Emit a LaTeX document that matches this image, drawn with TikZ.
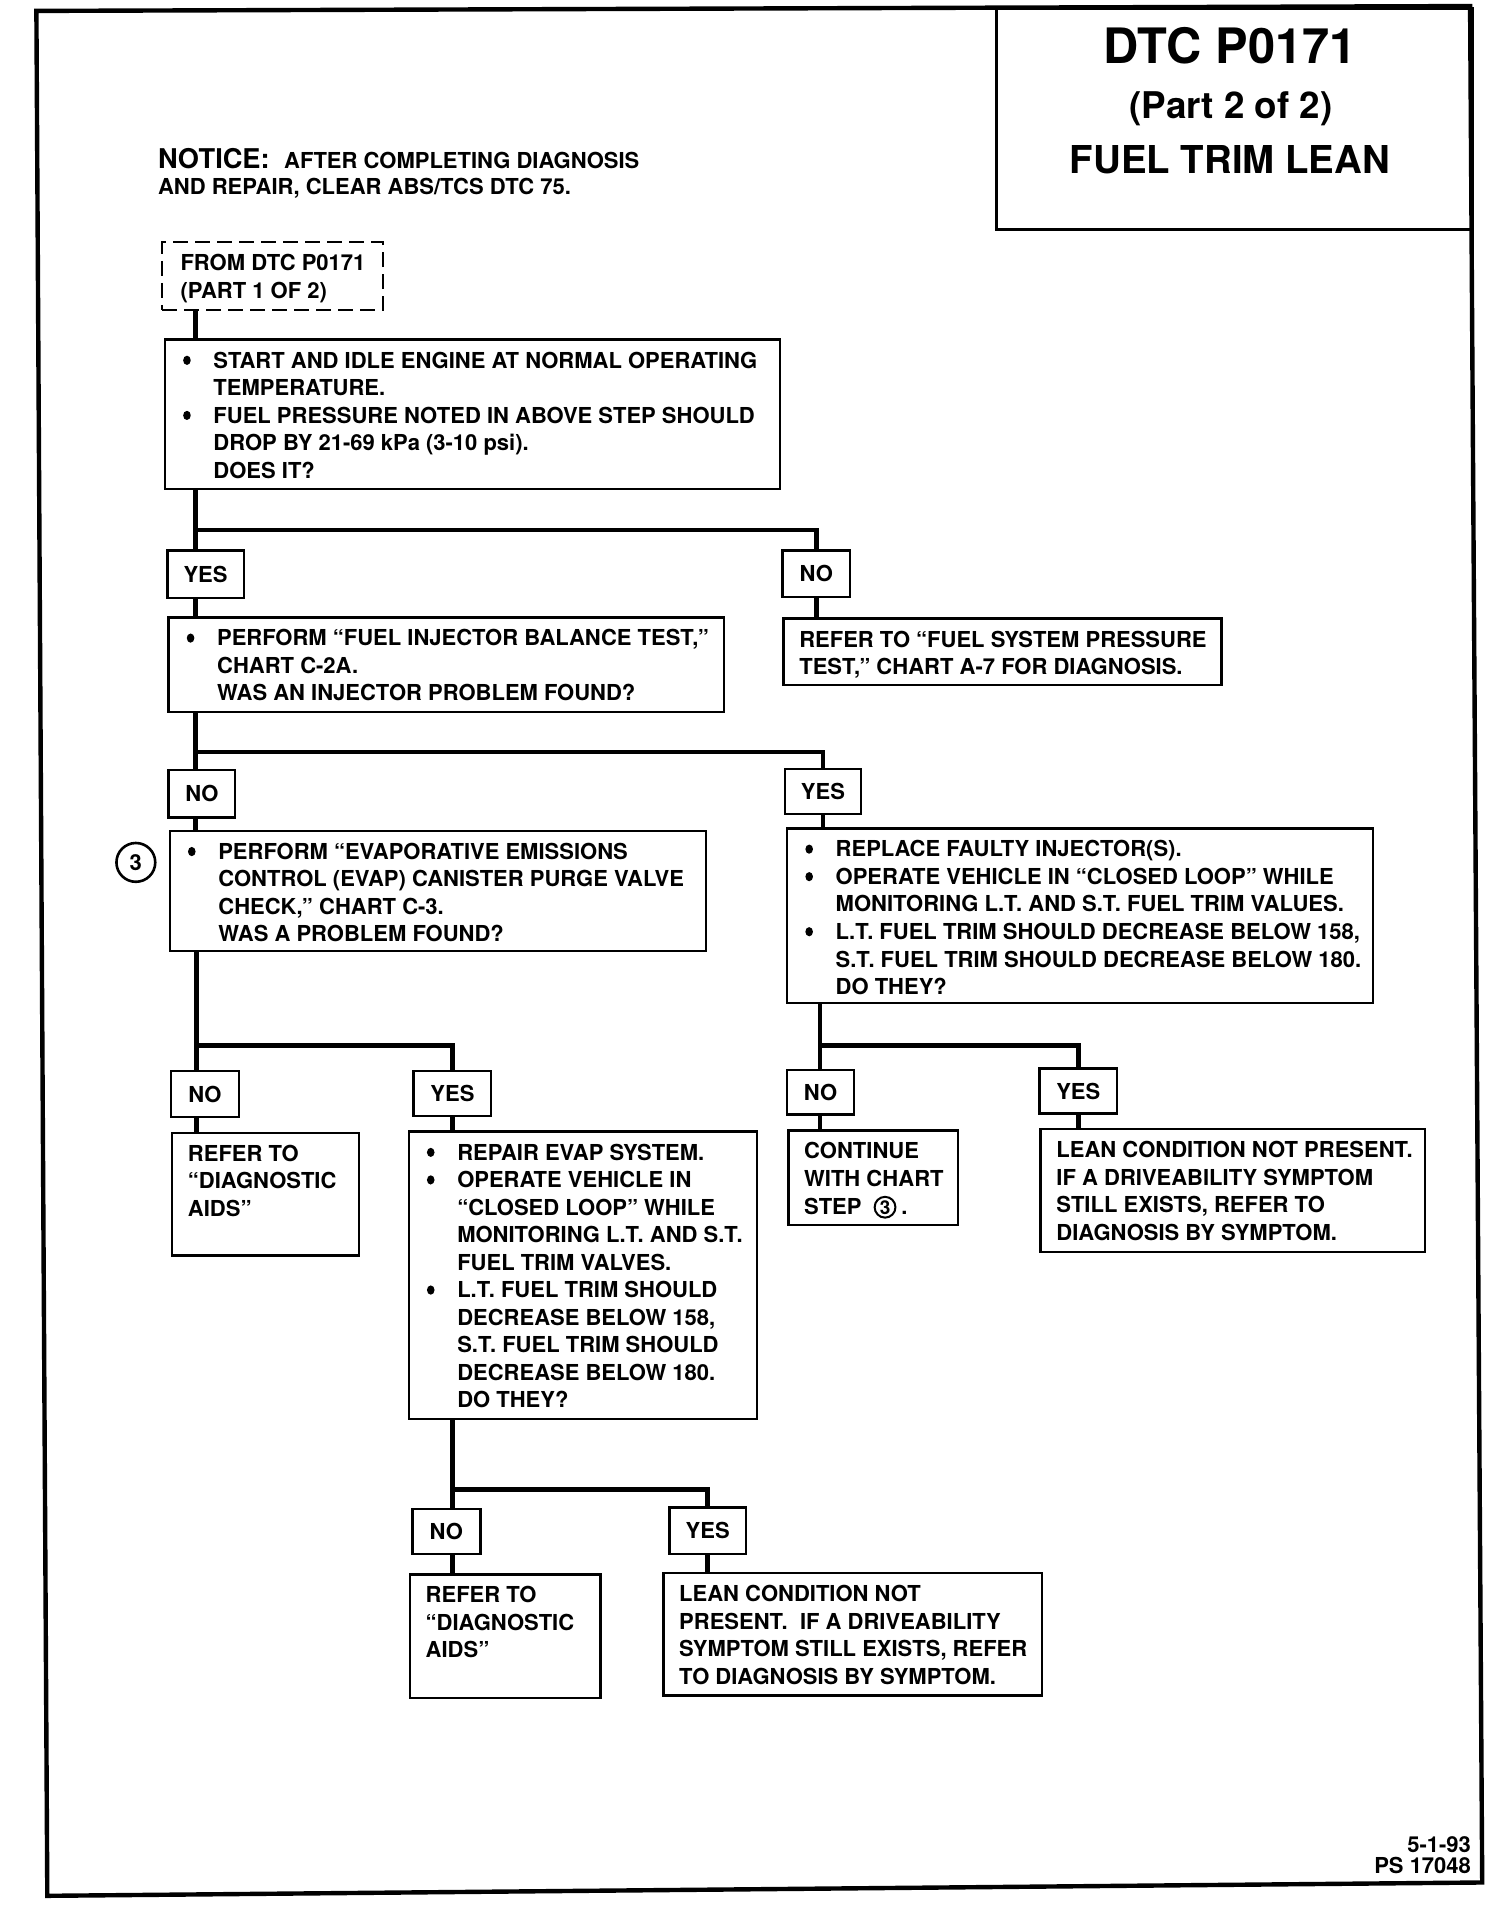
\documentclass[tikz,border=0pt]{standalone}
\usepackage{fontspec}
\setmainfont{TeX Gyre Heros}
\newdimen\U \U=0.6065pt
\def\u{0.6065pt}
\newcommand\fs{\rule{0pt}{23.5\U}}
\newcommand\bdot{\tikz[baseline=0pt]\fill (1.9pt,3.9pt) ellipse [x radius=1.9pt, y radius=2.3pt];}
\newcommand\bl[1]{\par\noindent\hspace*{15\U}\makebox[25\U][l]{\bdot}\mbox{#1}}
\newcommand\cl[1]{\par\noindent\hspace*{40\U}\mbox{#1}}
\newcommand\pl[2][13]{\par\noindent\hspace*{#1\U}\mbox{#2}}
\newcommand\bx[3]{\begin{minipage}[t][#2\U][t]{#1\U}\parskip=0pt\baselineskip=22.7\U\lineskiplimit=-20pt #3\end{minipage}}
\tikzset{
  txtbox/.style={draw, line width=1.2pt, inner sep=0pt, anchor=north west, font=\fontsize{11}{13.77}\selectfont\bfseries},
  lab/.style={draw, line width=1.2pt, inner sep=0pt, anchor=north west, font=\fontsize{11}{13.77}\selectfont\bfseries},
  conn/.style={line width=2.4pt},
  plain/.style={inner sep=0pt, font=\fontsize{11}{13.77}\selectfont\bfseries}
}
\begin{document}
\begin{tikzpicture}[x=0.6065pt, y=-0.6065pt]
\useasboundingbox (0,0) rectangle (1240,1571.4);
% outer frame
\coordinate (fTL) at (30,9);
\coordinate (fTR) at (1212,5);
\coordinate (fBR) at (1222,1552);
\coordinate (fBL) at (39,1563);
\draw[line width=2.2pt] (fTL) -- (fTR) -- (fBR) -- (fBL) -- cycle;
% title box
\node[draw, line width=1.5pt, inner sep=0pt, anchor=north west, minimum width=393*\u, minimum height=182*\u] (title) at (820,6) {};
\node[plain, anchor=base, font=\fontsize{24.4}{28}\selectfont\bfseries] (t1) at (1014,52.4) {DTC P0171};
\node[plain, anchor=base, font=\fontsize{18.4}{22}\selectfont\bfseries] (t2) at (1015,98) {(Part 2 of 2)};
\node[plain, anchor=base, font=\fontsize{19.2}{23}\selectfont\bfseries] (t3) at (1014,143.3) {FUEL TRIM LEAN};
% notice
\node[plain, anchor=base west] (n1) at (130,139) {{\fontsize{13.6}{16}\selectfont NOTICE:}\hspace{12\U}AFTER COMPLETING DIAGNOSIS};
\node[plain, anchor=base west] (n2) at (130,160.5) {AND REPAIR, CLEAR ABS/TCS DTC 75.};
% dashed start box
\node[txtbox, line width=1pt, dash pattern=on 7.5pt off 3.5pt] (dash) at (133,199) {\bx{182}{56}{\pl[15]{\fs FROM DTC P0171}\pl[15]{(PART 1 OF 2)}}};
% boxes
\node[txtbox] (b1) at (135,279) {\bx{507}{123}{%
\bl{\fs START AND IDLE ENGINE AT NORMAL OPERATING}
\cl{TEMPERATURE.}
\bl{FUEL PRESSURE NOTED IN ABOVE STEP SHOULD}
\cl{DROP BY 21-69 kPa (3-10 psi).}
\cl{DOES IT?}}};
\node[lab, minimum width=63*\u, minimum height=39*\u] (yes1) at (137,453) {YES};
\node[lab, minimum width=56*\u, minimum height=38*\u] (no1) at (644,453) {NO};
\node[txtbox] (b2) at (138,508) {\bx{458}{78}{%
\bl{\fs PERFORM “FUEL INJECTOR BALANCE TEST,”}
\cl{CHART C-2A.}
\cl{WAS AN INJECTOR PROBLEM FOUND?}}};
\node[txtbox] (nref1) at (645,509) {\bx{361}{55}{%
\pl{\fs REFER TO “FUEL SYSTEM PRESSURE}
\pl{TEST,” CHART A-7 FOR DIAGNOSIS.}}};
\node[lab, minimum width=55*\u, minimum height=39*\u] (no2) at (138,634) {NO};
\node[lab, minimum width=63*\u, minimum height=37*\u] (yes2) at (646,633) {YES};
\node[txtbox] (b3) at (139,684) {\bx{442}{99}{%
\bl{\fs PERFORM “EVAPORATIVE EMISSIONS}
\cl{CONTROL (EVAP) CANISTER PURGE VALVE}
\cl{CHECK,” CHART C-3.}
\cl{WAS A PROBLEM FOUND?}}};
\node[circle, draw, line width=1.3pt, inner sep=0pt, minimum size=32*\u, font=\fontsize{11}{13}\selectfont\bfseries] (c3) at (112,711) {3};
\node[txtbox] (b4) at (648,682) {\bx{483}{144}{%
\bl{\fs REPLACE FAULTY INJECTOR(S).}
\bl{OPERATE VEHICLE IN “CLOSED LOOP” WHILE}
\cl{MONITORING L.T. AND S.T. FUEL TRIM VALUES.}
\bl{L.T. FUEL TRIM SHOULD DECREASE BELOW 158,}
\cl{S.T. FUEL TRIM SHOULD DECREASE BELOW 180.}
\cl{DO THEY?}}};
\node[lab, minimum width=56*\u, minimum height=38*\u] (no3) at (140,882) {NO};
\node[lab, minimum width=64*\u, minimum height=37*\u] (yes3) at (340,882) {YES};
\node[txtbox] (b5) at (141,933) {\bx{154}{101}{%
\pl{\fs REFER TO}
\pl{“DIAGNOSTIC}
\pl{AIDS”}}};
\node[txtbox] (b6) at (336,932) {\bx{287}{237}{%
\bl{\fs REPAIR EVAP SYSTEM.}
\bl{OPERATE VEHICLE IN}
\cl{“CLOSED LOOP” WHILE}
\cl{MONITORING L.T. AND S.T.}
\cl{FUEL TRIM VALVES.}
\bl{L.T. FUEL TRIM SHOULD}
\cl{DECREASE BELOW 158,}
\cl{S.T. FUEL TRIM SHOULD}
\cl{DECREASE BELOW 180.}
\cl{DO THEY?}}};
\node[lab, minimum width=55*\u, minimum height=37*\u] (no4) at (648,881) {NO};
\node[lab, minimum width=64*\u, minimum height=37*\u] (yes4) at (856,880) {YES};
\node[txtbox] (b7) at (649,931) {\bx{140}{78}{%
\pl{\fs CONTINUE}
\pl{WITH CHART}
\pl{STEP\hspace{10\U}\tikz[baseline=(c3s.base)]\node[circle, draw, line width=1pt, inner sep=0.6pt, anchor=base, font=\fontsize{9.5}{11}\selectfont\bfseries] (c3s) {3};\hspace{4\U}.}}};
\node[txtbox] (b8) at (857,930) {\bx{317}{101}{%
\pl{\fs LEAN CONDITION NOT PRESENT.}
\pl{IF A DRIVEABILITY SYMPTOM}
\pl{STILL EXISTS, REFER TO}
\pl{DIAGNOSIS BY SYMPTOM.}}};
\node[lab, minimum width=56*\u, minimum height=37*\u] (no5) at (339,1243) {NO};
\node[lab, minimum width=63*\u, minimum height=38*\u] (yes5) at (551,1242) {YES};
\node[txtbox] (b9) at (337,1297) {\bx{157}{102}{%
\pl{\fs REFER TO}
\pl{“DIAGNOSTIC}
\pl{AIDS”}}};
\node[txtbox] (b10) at (546,1296) {\bx{312}{101}{%
\pl{\fs LEAN CONDITION NOT}
\pl{PRESENT.\ \ IF A DRIVEABILITY}
\pl{SYMPTOM STILL EXISTS, REFER}
\pl{TO DIAGNOSIS BY SYMPTOM.}}};
% footer
\node[plain, anchor=base east] (f1) at (1213,1527.5) {5-1-93};
\node[plain, anchor=base east] (f2) at (1213,1544.5) {PS 17048};
% junctions
\coordinate (j1) at (161,437);
\coordinate (j2) at (161,620);
\coordinate (j3) at (162,862);
\coordinate (j4) at (676,862);
\coordinate (j5) at (373,1228);
% connectors
\draw[conn] (dash.south -| j1) -- (b1.north -| j1);
\draw[conn] (b1.south -| j1) -- (j1) -| (no1.north);
\draw[conn] (j1) -- (yes1.north -| j1);
\draw[conn] (yes1.south -| j1) -- (b2.north -| j1);
\draw[conn] (no1.south) -- (nref1.north -| no1.south);
\draw[conn] (b2.south -| j2) -- (j2) -| (yes2.north);
\draw[conn] (j2) -- (no2.north -| j2);
\draw[conn] (no2.south -| j2) -- (b3.north -| j2);
\draw[conn] (yes2.south) -- (b4.north -| yes2.south);
\draw[conn] (b3.south -| j3) -- (j3) -| (yes3.north);
\draw[conn] (j3) -- (no3.north -| j3);
\draw[conn] (no3.south -| j3) -- (b5.north -| j3);
\draw[conn] (yes3.south) -- (b6.north -| yes3.south);
\draw[conn] (b4.south -| j4) -- (j4) -| (yes4.north);
\draw[conn] (j4) -- (no4.north -| j4);
\draw[conn] (no4.south -| j4) -- (b7.north -| j4);
\draw[conn] (yes4.south) -- (b8.north -| yes4.south);
\draw[conn] (b6.south -| j5) -- (j5) -| (yes5.north);
\draw[conn] (j5) -- (no5.north -| j5);
\draw[conn] (no5.south -| j5) -- (b9.north -| j5);
\draw[conn] (yes5.south) -- (b10.north -| yes5.south);
\end{tikzpicture}
\end{document}
